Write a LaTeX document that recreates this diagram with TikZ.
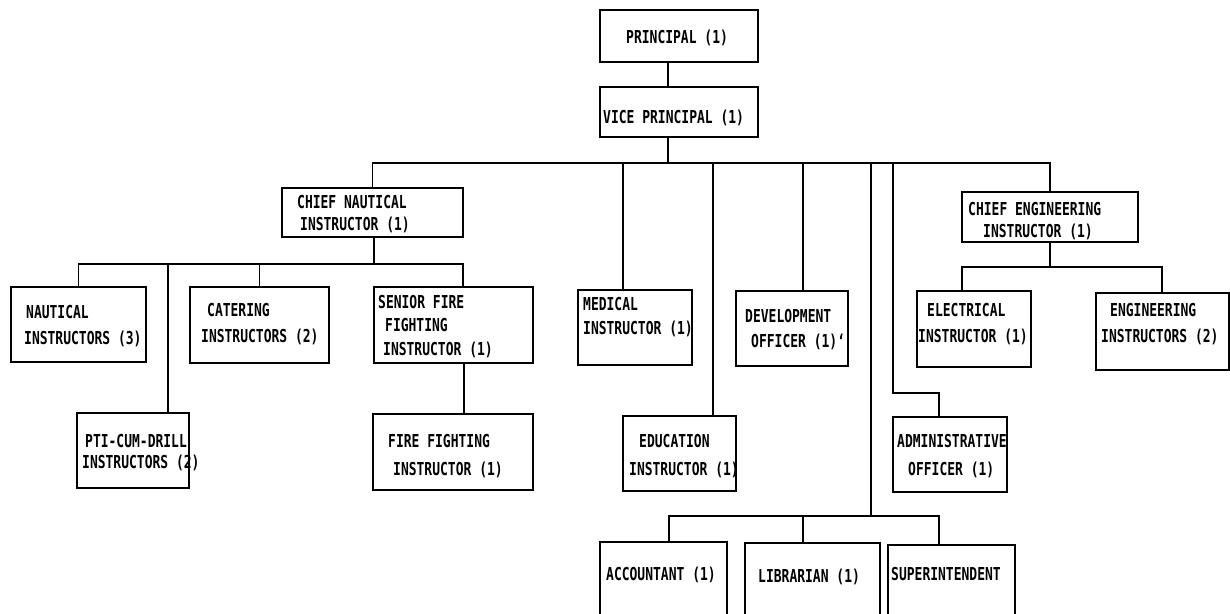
\documentclass[tikz,border=0pt]{standalone}
\usepackage{fontspec}
\newfontfamily\chartfont{DejaVu Sans Mono}[FakeStretch=0.73]
\usetikzlibrary{fit}
\begin{document}
\begin{tikzpicture}[x=1pt,y=-1pt,
  box/.style={draw, line width=1.5pt, inner sep=0pt, rectangle},
  ls/.style={font=\chartfont\bfseries\fontsize{17.8}{#1}\selectfont},
  txt/.style={inner sep=0pt, anchor=north west, align=left, ls=24},
  wire/.style={line width=1.7pt}]
\clip (0,0) rectangle (1230,613);
\fill[white] (0,0) rectangle (1230,613);
% ---- boxes
\node[box, fit={(600,10)(758,62)}] (pr) {};
\node[box, fit={(600,87)(758,137)}] (vp) {};
\node[box, fit={(282,188)(463,237)}] (cn) {};
\node[box, fit={(11,287)(146,362)}] (na) {};
\node[box, fit={(190,287)(329,363)}] (ca) {};
\node[box, fit={(374,287)(533,363)}] (sf) {};
\node[box, fit={(77,413)(189,488)}] (pt) {};
\node[box, fit={(373,414)(533,490)}] (ff) {};
\node[box, fit={(578,290)(692,365)}] (md) {};
\node[box, fit={(623,416)(736,491)}] (ed) {};
\node[box, fit={(736,291)(848,366)}] (dv) {};
\node[box, fit={(893,417)(1007,492)}] (ad) {};
\node[box, fit={(962,192)(1138,242)}] (ce) {};
\node[box, fit={(917,291)(1031,367)}] (el) {};
\node[box, fit={(1096,293)(1229,370)}] (en) {};
\node[box, fit={(600,542)(727,640)}] (ac) {};
\node[box, fit={(745,543)(880,640)}] (li) {};
\node[box, fit={(888,545)(1015,640)}] (su) {};
% ---- texts (anchor = top of first line)
\node[txt] (prt) at (626,29.5) {PRINCIPAL (1)};
\node[txt] (vpt) at (603,110) {VICE PRINCIPAL (1)};
\node[txt, ls=22] (cnt) at (297,195) {CHIEF NAUTICAL\\\hspace*{3pt}INSTRUCTOR (1)};
\node[txt, ls=26.5] (nat) at (24,305) {\hspace*{2pt}NAUTICAL\\INSTRUCTORS (3)};
\node[txt, ls=26] (cat) at (201,303) {\hspace*{6pt}CATERING\\INSTRUCTORS (2)};
\node[txt, ls=23.5] (sft) at (378,295) {SENIOR FIRE\\\hspace*{7pt}FIGHTING\\\hspace*{5pt}INSTRUCTOR (1)};
\node[txt, ls=21] (ptt) at (82,434) {\hspace*{3pt}PTI-CUM-DRILL\\INSTRUCTORS (2)};
\node[txt, ls=28] (fft) at (388,434) {FIRE FIGHTING\\\hspace*{5pt}INSTRUCTOR (1)};
\node[txt, ls=24] (mdt) at (583,297) {MEDICAL\\INSTRUCTOR (1)};
\node[txt, ls=28] (edt) at (629,434) {\hspace*{10pt}EDUCATION\\INSTRUCTOR (1)};
\node[txt, ls=25] (dvt) at (745,309) {DEVELOPMENT\\\hspace*{6pt}OFFICER (1)\textquoteleft};
\node[txt, ls=28] (adt) at (897,434) {ADMINISTRATIVE\\\hspace*{11pt}OFFICER (1)};
\node[txt, ls=22] (cet) at (968,202) {CHIEF ENGINEERING\\\hspace*{15pt}INSTRUCTOR (1)};
\node[txt, ls=26] (elt) at (918,303) {\hspace*{9pt}ELECTRICAL\\INSTRUCTOR (1)};
\node[txt, ls=26] (ent) at (1101,303) {\hspace*{9pt}ENGINEERING\\INSTRUCTORS (2)};
\node[txt] (act) at (606,567) {ACCOUNTANT (1)};
\node[txt] (lit) at (758,569) {LIBRARIAN (1)};
\node[txt] (sut) at (891,567) {SUPERINTENDENT};
% ---- junction coordinates
\coordinate (bus) at (668,163);
\coordinate (xmd) at (623,163);
\coordinate (xed) at (713,163);
\coordinate (xdv) at (803,163);
\coordinate (xac) at (871,163);
\coordinate (xad) at (893,163);
\coordinate (adk) at (893,393);
\coordinate (adj) at (939,393);
\coordinate (nbus) at (374,264);
\coordinate (xpt) at (168,264);
\coordinate (xsf) at (463,264);
\coordinate (ebus) at (1050,267);
\coordinate (xel) at (962,267);
\coordinate (xen) at (1162,267);
\coordinate (abus) at (871,516);
\coordinate (xa1) at (669,516);
\coordinate (xa2) at (803,516);
\coordinate (xa3) at (939,516);
% ---- connectors
\draw[wire] (pr.south -| bus) -- (vp.north -| bus);
\draw[wire] (vp.south -| bus) -- (bus);
\draw[wire] (cn.north) -- (cn.north |- bus) -- (ce.north |- bus) -- (ce.north);
\draw[wire] (xmd) -- (md.north -| xmd);
\draw[wire] (xed) -- (ed.north -| xed);
\draw[wire] (xdv) -- (dv.north -| xdv);
\draw[wire] (xac) -- (abus);
\draw[wire] (xad) -- (adk) -- (adj) -- (ad.north -| adj);
% nautical branch
\draw[wire] (cn.south -| nbus) -- (nbus);
\draw[wire] (na.north) -- (na.north |- nbus) -- (xsf) -- (sf.north -| xsf);
\draw[wire] (xpt) -- (pt.north -| xpt);
\draw[wire] (ca.north |- nbus) -- (ca.north);
\draw[wire] (sf.south -| 464,0) -- (ff.north -| 464,0);
% engineering branch
\draw[wire] (ce.south -| ebus) -- (ebus);
\draw[wire] (el.north -| xel) -- (xel) -- (xen) -- (en.north -| xen);
% accounts branch
\draw[wire] (ac.north -| xa1) -- (xa1) -- (xa3) -- (su.north -| xa3);
\draw[wire] (xa2) -- (li.north -| xa2);
\end{tikzpicture}
\end{document}
